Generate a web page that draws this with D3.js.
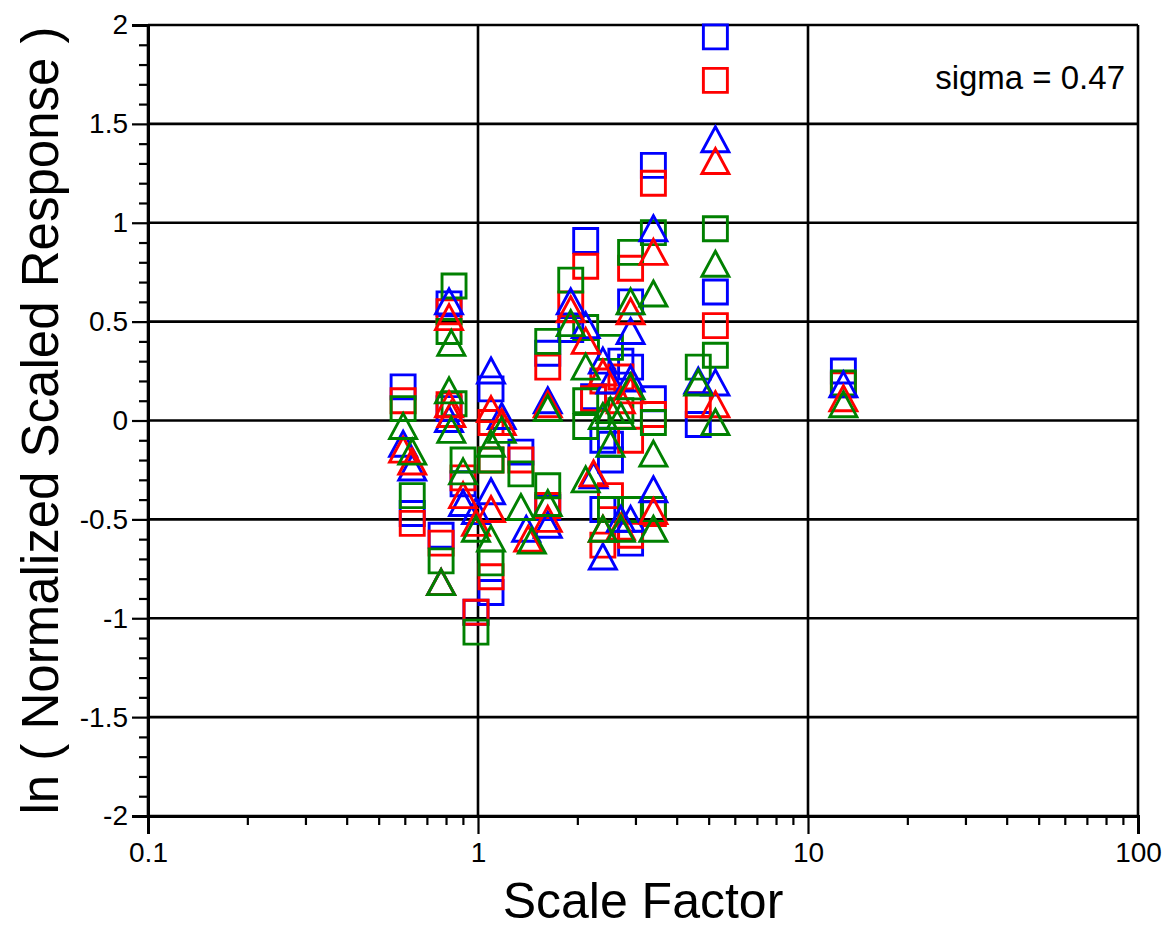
<!DOCTYPE html>
<html>
<head>
<meta charset="utf-8">
<script src="https://cdn.jsdelivr.net/npm/d3@7"></script>
<style>
body { margin: 0; background: #fff; }
text { font-family: Arial, "Liberation Sans", sans-serif; fill: #000; }
</style>
</head>
<body>
<svg width="1171" height="928"></svg>
<script>
// [scale factor, ln(normalized scaled response)]
const blueSquares = [[0.593,0.17],[0.632,-0.47],[0.773,-0.58],[0.817,0.59],[0.817,0.06],[0.901,-0.32],[0.986,-0.97],[1.095,0.16],[1.095,-0.87],[1.349,-0.16],[1.627,0.34],[1.627,-0.44],[1.91,0.46],[2.12,0.91],[2.24,0.12],[2.39,-0.1],[2.39,-0.45],[2.52,-0.2],[2.52,-0.12],[2.71,0.3],[2.9,0.27],[2.9,0.6],[2.9,-0.62],[3.4,1.29],[3.4,0.11],[4.65,-0.02],[5.24,1.94],[5.24,0.65],[12.8,0.25]]
const redSquares = [[0.593,0.1],[0.632,-0.52],[0.773,-0.62],[0.817,0.55],[0.817,0.08],[0.901,-0.29],[0.986,-0.97],[1.095,-0.01],[1.095,-0.2],[1.095,-0.79],[1.349,-0.2],[1.627,0.27],[1.627,-0.43],[1.91,0.59],[2.12,0.78],[2.24,0.11],[2.39,0.2],[2.39,-0.63],[2.52,-0.38],[2.71,0.22],[2.9,0.77],[2.9,-0.1],[2.9,-0.58],[3.4,1.2],[3.4,0.03],[3.4,-0.47],[4.65,0.08],[5.24,1.72],[5.24,0.48],[12.8,0.18]]
const greenSquares = [[0.593,0.06],[0.632,-0.38],[0.773,-0.71],[0.846,0.68],[0.817,0.45],[0.846,0.085],[0.901,-0.2],[0.986,-1.07],[1.095,-0.2],[1.095,-0.72],[1.349,-0.27],[1.627,0.4],[1.627,-0.33],[1.91,0.71],[2.12,0.47],[2.12,0.1],[2.12,-0.03],[2.52,0.37],[2.52,-0.45],[2.71,0.05],[2.9,0.85],[2.9,-0.45],[3.4,0.95],[3.4,-0.01],[3.4,-0.45],[4.65,0.27],[5.24,0.97],[5.24,0.33],[12.8,0.19]]
const blueTriangles = [[0.593,-0.12],[0.632,-0.24],[0.773,-0.82],[0.817,0.6],[0.817,0.005],[0.901,-0.42],[0.986,-0.46],[1.095,0.25],[1.095,-0.36],[1.18,0.02],[1.4,-0.55],[1.627,0.1],[1.627,-0.53],[1.91,0.6],[2.12,0.48],[2.24,-0.28],[2.39,0.3],[2.39,-0.69],[2.52,0.2],[2.71,-0.5],[2.9,0.45],[2.9,0.21],[2.9,-0.5],[3.4,0.97],[3.4,-0.35],[4.65,0.2],[5.24,1.42],[5.24,0.19],[12.8,0.18]]
const redTriangles = [[0.593,-0.15],[0.632,-0.21],[0.773,-0.82],[0.817,0.52],[0.817,0.08],[0.83,0.03],[0.901,-0.38],[0.986,-0.52],[1.095,0.055],[1.095,-0.45],[1.18,-0.01],[1.42,-0.6],[1.627,0.08],[1.627,-0.5],[1.91,0.56],[2.12,0.4],[2.24,-0.27],[2.39,0.24],[2.39,-0.55],[2.71,0.1],[2.71,-0.54],[2.9,0.55],[2.9,0.15],[3.4,0.85],[3.4,-0.46],[5.24,1.31],[5.24,0.08],[12.8,0.11]]
const greenTriangles = [[0.593,-0.03],[0.632,-0.16],[0.773,-0.82],[0.83,0.39],[0.817,0.15],[0.83,-0.05],[0.901,-0.26],[0.986,-0.55],[1.095,-0.12],[1.095,-0.6],[1.18,-0.05],[1.349,-0.44],[1.456,-0.61],[1.627,0.06],[1.627,-0.42],[1.91,0.49],[2.12,0.27],[2.12,-0.3],[2.39,0.02],[2.39,-0.55],[2.52,0.05],[2.52,-0.12],[2.71,0.02],[2.71,-0.55],[2.9,0.6],[2.9,0.17],[3.4,0.64],[3.4,-0.17],[3.4,-0.55],[4.65,0.19],[5.24,0.79],[5.24,-0.01],[12.8,0.08]]

const xTicks = [0.1, 1, 10, 100]
const yTicks = [-2, -1.5, -1, -0.5, 0, 0.5, 1, 1.5, 2]
const sigmaLabel = 'sigma = 0.47'

const svg = d3.select('svg')
const mLeft = 148, mRight = 1138, mTop = 25, mBottom = 816

let x = d3.scaleLog().domain([0.1, 100]).range([mLeft, mRight])
let y = d3.scaleLinear().domain([-2, 2]).range([mBottom, mTop])

// minor ticks
let xMinor = []
for (let d = 0.1; d < 100; d *= 10) {
	for (let k = 2; k <= 9; k++) xMinor.push(+(d * k).toPrecision(3))
}
let yMinor = d3.range(-20, 21).map(i => i / 10).filter(v => !yTicks.includes(v))

// grid
let grid = svg.append('g').attr('id', 'grid')
grid.selectAll('line.h').data(yTicks).enter().append('line')
	.attr('x1', mLeft).attr('x2', mRight)
	.attr('y1', d => y(d)).attr('y2', d => y(d))
	.attr('stroke', '#000').attr('stroke-width', 2.6)
grid.selectAll('line.v').data(xTicks).enter().append('line')
	.attr('x1', d => x(d)).attr('x2', d => x(d))
	.attr('y1', mTop).attr('y2', mBottom)
	.attr('stroke', '#000').attr('stroke-width', 2.6)

// axes
let leftAxisG = svg.append('g').attr('transform', `translate(${mLeft},0)`)
leftAxisG.call(d3.axisLeft(y).tickValues(yTicks).tickSize(16).tickPadding(4).tickFormat(d => String(d)))
let leftMinorG = svg.append('g').attr('transform', `translate(${mLeft},0)`)
leftMinorG.call(d3.axisLeft(y).tickValues(yMinor).tickSize(9).tickFormat(''))

let bottomAxisG = svg.append('g').attr('transform', `translate(0,${mBottom})`)
bottomAxisG.call(d3.axisBottom(x).tickValues(xTicks).tickSize(18).tickPadding(8).tickFormat(d => String(d)))
let bottomMinorG = svg.append('g').attr('transform', `translate(0,${mBottom})`)
bottomMinorG.call(d3.axisBottom(x).tickValues(xMinor).tickSize(9).tickFormat(''))

svg.selectAll('.domain').attr('stroke', '#000').attr('stroke-width', 3)
svg.selectAll('.tick line').attr('stroke', '#000').attr('stroke-width', 2.2)
svg.selectAll('.tick text').attr('font-size', 28).attr('fill', '#000')
	.style('font-family', 'Arial, "Liberation Sans", sans-serif')

// markers
const squarePath = d3.symbol().type(d3.symbolSquare).size(24 * 24)()
const trianglePath = 'M0,-13L13.5,12L-13.5,12Z'

const series = [
	{ data: blueSquares, color: '#0000ff', path: squarePath },
	{ data: redSquares, color: '#ff0000', path: squarePath },
	{ data: greenSquares, color: '#008000', path: squarePath },
	{ data: blueTriangles, color: '#0000ff', path: trianglePath },
	{ data: redTriangles, color: '#ff0000', path: trianglePath },
	{ data: greenTriangles, color: '#008000', path: trianglePath }
]

let marks = svg.append('g').attr('id', 'marks')
series.forEach(s => {
	marks.append('g').selectAll('path')
		.data(s.data)
		.enter()
		.append('path')
		.attr('d', s.path)
		.attr('transform', d => `translate(${x(d[0])},${y(d[1])})`)
		.attr('fill', 'none')
		.attr('stroke', s.color)
		.attr('stroke-width', 2.9)
})

// labels
svg.append('text')
	.attr('x', 1125).attr('y', 89)
	.attr('text-anchor', 'end')
	.attr('font-size', 33)
	.text(sigmaLabel)

svg.append('text')
	.attr('x', (mLeft + mRight) / 2).attr('y', 918)
	.attr('text-anchor', 'middle')
	.attr('font-size', 50)
	.text('Scale Factor')

svg.append('text')
	.attr('transform', `translate(58,${(mTop + mBottom) / 2}) rotate(-90)`)
	.attr('text-anchor', 'middle')
	.attr('font-size', 51)
	.text('ln ( Normalized Scaled Response )')
</script>
</body>
</html>
